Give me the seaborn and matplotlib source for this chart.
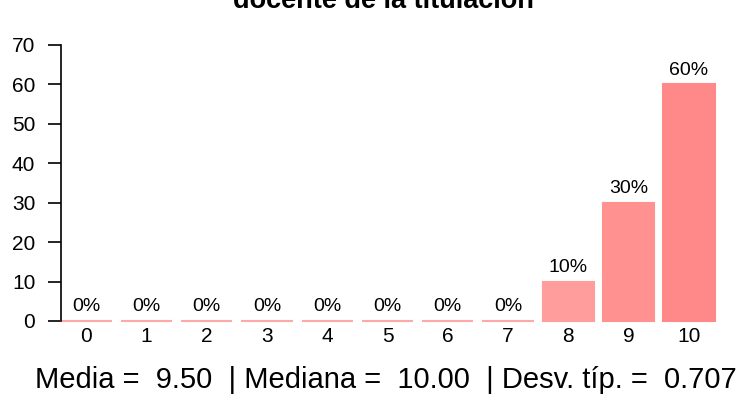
import matplotlib
matplotlib.use("Agg")
import matplotlib.pyplot as plt
import seaborn as sns
import pandas as pd

sns.set_style("white")
plt.rcParams["font.family"] = ["Liberation Sans", "DejaVu Sans"]
plt.rcParams["text.color"] = "black"
plt.rcParams["xtick.color"] = "black"
plt.rcParams["ytick.color"] = "black"

# Score categories and share of responses (%)
scores = ["0", "1", "2", "3", "4", "5", "6", "7", "8", "9", "10"]
percents = [0, 0, 0, 0, 0, 0, 0, 0, 10, 30, 60]
bar_colors = ["#FFA8A8"] * 8 + ["#FF9C9C", "#FF9191", "#FF8888"]

title_lines = "Valoración global de la actividad\ndocente de la titulación"
summary = "Media =  9.50  | Mediana =  10.00  | Desv. típ. =  0.707"
y_ticks = [0, 10, 20, 30, 40, 50, 60, 70]

df = pd.DataFrame({"score": scores, "pct": percents})

W, H = 744, 394
fig = plt.figure(figsize=(W / 100, H / 100), dpi=100)
ax = fig.add_axes([61 / W, (H - 321) / H, (720 - 61) / W, (321 - 45) / H])

sns.barplot(data=df, x="score", y="pct", hue="score", palette=bar_colors,
            order=scores, hue_order=scores, legend=False, width=0.85,
            saturation=1, ax=ax)

for patch, col in zip(ax.patches, bar_colors):
    patch.set_edgecolor(col)
    patch.set_linewidth(1.5)
    patch.set_clip_on(False)

for container in ax.containers:
    ax.bar_label(container, labels=[f"{v:g}%" for v in container.datavalues],
                 padding=4, fontsize=14, color="black")

ax.set_xlim(-0.414, 10.514)
ax.set_ylim(0, 70)
ax.set_yticks(y_ticks)
ax.set_yticklabels([str(t) for t in y_ticks], fontsize=15)
ax.tick_params(axis="y", direction="out", length=9.5, width=1.2, pad=9, left=True)
ax.tick_params(axis="x", length=0, pad=4, labelsize=15)
ax.set_xlabel("")
ax.set_ylabel("")
for side in ["top", "right", "bottom"]:
    ax.spines[side].set_visible(False)
ax.spines["left"].set_bounds(0, 70)
ax.spines["left"].set_linewidth(1.2)
ax.spines["left"].set_color("black")

fig.text(383 / W, 1 - 8 / H, title_lines, ha="center", va="baseline",
         fontsize=19.5, fontweight="bold", linespacing=1.15)
fig.text(386 / W, 1 - 388 / H, summary, ha="center", va="baseline",
         fontsize=21)

fig.savefig("out.png", dpi=100)
